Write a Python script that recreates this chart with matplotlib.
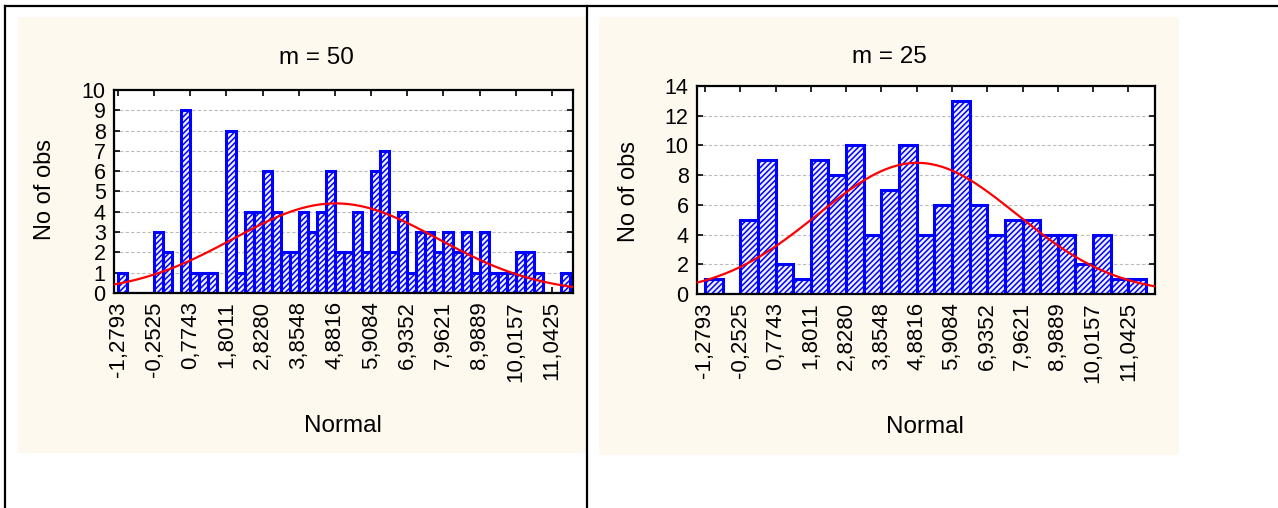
import numpy as np
import matplotlib
matplotlib.use('Agg')
import matplotlib.pyplot as plt
from matplotlib.patches import Rectangle
from matplotlib.lines import Line2D

plt.rcParams['font.family'] = ['Liberation Sans', 'DejaVu Sans']
plt.rcParams['hatch.linewidth'] = 1.1

# ------------------------------
# Data
# ------------------------------
TICK_VALUES = [-1.2793, -0.2525, 0.7743, 1.8011, 2.8280, 3.8548, 4.8816,
               5.9084, 6.9352, 7.9621, 8.9889, 10.0157, 11.0425]
TICK_LABELS = ["-1,2793", "-0,2525", "0,7743", "1,8011", "2,8280", "3,8548",
               "4,8816", "5,9084", "6,9352", "7,9621", "8,9889", "10,0157",
               "11,0425"]
HIST_MIN = -1.2793
HIST_MAX = 11.5557

# m = 50 bins
COUNTS_50 = [1, 0, 0, 0, 3, 2, 0, 9, 1, 1, 1, 0, 8, 1, 4, 4, 6, 4, 2, 2,
             4, 3, 4, 6, 2, 2, 4, 2, 6, 7, 2, 4, 1, 3, 3, 2, 3, 2, 3, 1,
             3, 1, 1, 1, 2, 2, 1, 0, 0, 1]
# m = 25 bins
COUNTS_25 = [1, 0, 5, 9, 2, 1, 9, 8, 10, 4, 7, 10, 4, 6, 13, 6, 4, 5, 5, 4,
             4, 2, 4, 1, 1]

# fitted normal curve
FIT_MEAN = 4.9
FIT_SD = 2.9

W, H = 1278, 508
CREAM = '#FEF9EE'


def px_box(x0, y0, x1, y1):
    return [x0 / W, 1 - y1 / H, (x1 - x0) / W, (y1 - y0) / H]


fig = plt.figure(figsize=(W / 100, H / 100), dpi=100)
fig.patch.set_facecolor('white')

# cream panels
for box in [(18, 17, 587, 453), (599, 17, 1179, 455)]:
    fig.add_artist(Rectangle((box[0] / W, 1 - box[3] / H),
                             (box[2] - box[0]) / W, (box[3] - box[1]) / H,
                             transform=fig.transFigure, facecolor=CREAM,
                             edgecolor='none', zorder=0))

# table frame lines
for (x0, y0, x1, y1) in [(5, 6, 1278, 6), (5, 6, 5, 508), (587, 6, 587, 508)]:
    fig.add_artist(Line2D([x0 / W, x1 / W], [1 - y0 / H, 1 - y1 / H],
                          transform=fig.transFigure, color='black', lw=1.6))


def draw_panel(box, counts, ymax, ystep, xlim, title, title_xy, ylab_xy, xlab_xy):
    ax = fig.add_axes(px_box(*box))
    ax.set_facecolor('white')
    n = len(counts)
    edges = np.linspace(HIST_MIN, HIST_MAX, n + 1)
    width = edges[1] - edges[0]
    ax.bar(edges[:-1], counts, width=width, align='edge', facecolor='#eef0ff',
           edgecolor='#0000FF', hatch='//////', linewidth=2.2, zorder=2)

    xs = np.linspace(xlim[0], xlim[1], 400)
    n_obs = sum(counts)
    ys = n_obs * width / (FIT_SD * np.sqrt(2 * np.pi)) * np.exp(-0.5 * ((xs - FIT_MEAN) / FIT_SD) ** 2)
    ax.plot(xs, ys, color='red', lw=1.6, zorder=3)

    ax.set_xlim(*xlim)
    ax.set_ylim(0, ymax)
    yt = np.arange(0, ymax + 0.1, ystep)
    ax.set_yticks(yt)
    ax.set_yticklabels([f"{int(v)}" for v in yt], fontsize=15.5)
    ax.set_xticks(TICK_VALUES)
    ax.set_xticklabels(TICK_LABELS, rotation=90, fontsize=16)
    ax.tick_params(direction='in', top=True, right=True, length=4, width=1.2,
                   pad=6)
    for v in yt[1:-1]:
        ax.axhline(v, color='#bbbbbb', lw=0.8, ls=(0, (3, 2)), zorder=1)
    for s in ax.spines.values():
        s.set_linewidth(1.6)

    fig.text(title_xy[0] / W, 1 - title_xy[1] / H, title, fontsize=17.5,
             ha='center', va='center')
    fig.text(ylab_xy[0] / W, 1 - ylab_xy[1] / H, "No of obs", fontsize=17,
             rotation=90, ha='center', va='center')
    fig.text(xlab_xy[0] / W, 1 - xlab_xy[1] / H, "Normal", fontsize=17.5,
             ha='center', va='center')
    return ax


draw_panel((114, 90, 573, 293), COUNTS_50, 10, 1, (-1.393, 11.64),
           "m = 50", (316, 58), (45, 190), (343, 426))
draw_panel((697, 86, 1155, 294), COUNTS_25, 14, 2, (-1.512, 11.818),
           "m = 25", (889, 57), (629, 192), (925, 427))

fig.savefig('out.png', dpi=100, facecolor='white')
